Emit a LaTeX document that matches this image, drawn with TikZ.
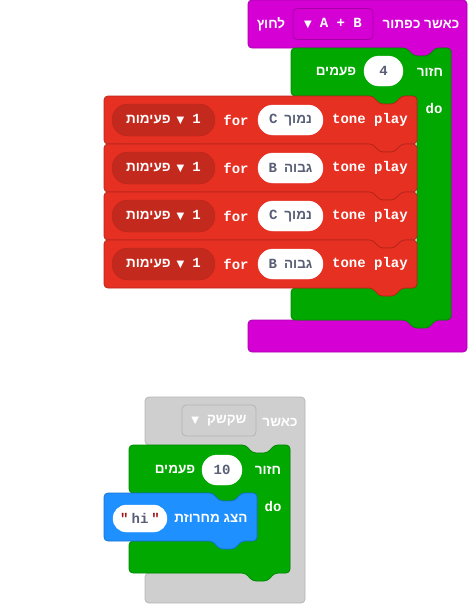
\documentclass[tikz,border=0pt]{standalone}
\usepackage{fontspec}
\usetikzlibrary{shapes.misc}
\newfontfamily\monofnt{Liberation Mono}
\newfontfamily\hebfnt[Script=Hebrew,BoldFont={Liberation Sans Bold}]{Liberation Sans}
\newfontfamily\symfnt{DejaVu Sans}
\TeXXeTstate=1
\definecolor{evt}{HTML}{D400D4}
\definecolor{evtd}{HTML}{A800A8}
\definecolor{loopc}{HTML}{00A800}
\definecolor{loopd}{HTML}{008A00}
\definecolor{music}{HTML}{E63022}
\definecolor{musicd}{HTML}{B8261B}
\definecolor{beatc}{HTML}{C4291D}
\definecolor{basic}{HTML}{1E90FF}
\definecolor{basicd}{HTML}{1873CC}
\definecolor{off}{HTML}{CFCFCF}
\definecolor{offd}{HTML}{B4B4B4}
\definecolor{valtxt}{HTML}{575E75}
\definecolor{quote}{HTML}{A31515}
\newcommand\rtl[1]{\beginR #1\endR}
\newcommand\tri{{\symfnt\fontsize{10}{10}\selectfont ▼}}
\newcommand\topnotch[2]{-- (#1-44,#2) -- (#1-38,#2+8) -- (#1-22,#2+8) -- (#1-16,#2)}
\newcommand\bottab[2]{-- (#1-16,#2) -- (#1-22,#2+8) -- (#1-38,#2+8) -- (#1-44,#2)}
\newcommand\stmt[5]{\draw[#1] (#2,#3) \topnotch{#4}{#3} -- (#4,#3) -- (#4,#5) \bottab{#4}{#5} -- (#2,#5) -- cycle;}
\newcommand\hatblk[8]{\draw[#1] (#2,#3) -- (#4,#3) -- (#4,#8) -- (#2,#8) -- (#2,#7) -- (#5,#7) -- (#5,#6) \bottab{#5}{#6} -- (#2,#6) -- cycle;}
\newcommand\loopblk[8]{\draw[#1] (#2,#3) \topnotch{#4}{#3} -- (#4,#3) -- (#4,#8) \bottab{#4}{#8} -- (#2,#8) -- (#2,#7) -- (#5,#7) -- (#5,#6) \bottab{#5}{#6} -- (#2,#6) -- cycle;}
\begin{document}
\begin{tikzpicture}[x=1pt,y=-1pt,
blk/.style={rounded corners=4pt,line width=0.8pt,line join=round},
evtshape/.style={blk,fill=evt,draw=evtd},
loopshape/.style={blk,fill=loopc,draw=loopd},
musicshape/.style={blk,fill=music,draw=musicd},
basicshape/.style={blk,fill=basic,draw=basicd},
offshape/.style={blk,fill=off,draw=offd},
txt/.style={inner sep=0pt,text=white,font=\monofnt\bfseries\fontsize{14}{14}\selectfont},
heb/.style={inner sep=0pt,text=white,font=\hebfnt\bfseries\fontsize{13.5}{13.5}\selectfont},
pill/.style={rounded rectangle,fill=white,draw=white,inner sep=0pt,minimum height=30pt,text=valtxt,font=\monofnt\bfseries\fontsize{14}{14}\selectfont},
ddpill/.style={rounded rectangle,fill=beatc,draw=musicd,inner sep=0pt,minimum width=103pt,minimum height=32pt,text=white,font=\monofnt\bfseries\fontsize{14}{14}\selectfont},
ddbox/.style={rectangle,rounded corners=4pt,line width=0.8pt,inner sep=0pt,minimum height=31pt,text=white,font=\monofnt\bfseries\fontsize{14}{14}\selectfont}]
\useasboundingbox (0,0) rectangle (467,605);

\hatblk{evtshape}{248}{0}{467}{451}{48}{320}{352}
\node[heb] (when) at (421,24) {\rtl{כאשר כפתור}};
\node[ddbox,fill=evt,draw=evtd,minimum width=80pt] (btn) at (333,24) {\tri\hspace{8pt}A + B};
\node[heb] (pressed) at (271,24) {\rtl{לחוץ}};

\loopblk{loopshape}{291}{48}{451}{417}{96}{288}{320}
\node[heb] (rep) at (430,72) {\rtl{חזור}};
\node[pill,minimum width=39pt] (times) at (383.5,71) {4};
\node[heb] (timeslbl) at (336,72) {\rtl{פעמים}};
\node[txt] (do) at (434,108) {do};

\foreach \y/\n/\nm [count=\i] in {120/C/נמוך,168/B/גבוה,216/C/נמוך,264/B/גבוה}{
  \stmt{musicshape}{104}{\y-24}{417}{\y+24}
  \node[ddpill] (beat\i) at (163.5,\y) {{\hebfnt\fontsize{13.5}{13.5}\selectfont\rtl{פעימות}}\hspace{6pt}\tri\hspace{8pt}1};
  \node[txt] (for\i) at (236,\y) {for};
  \node[pill,minimum width=65pt] (note\i) at (290.5,\y) {\n\hspace{7pt}{\hebfnt\fontsize{13.5}{13.5}\selectfont\rtl{\nm}}};
  \node[txt] (play\i) at (370,\y) {tone play};
}

\hatblk{offshape}{145}{397}{305}{290}{445}{573}{603}
\node[heb] (when2) at (280,422) {\rtl{כאשר}};
\node[ddbox,fill=off,draw=offd,minimum width=74pt] (shake) at (219,420.5) {\tri\hspace{8pt}{\hebfnt\fontsize{13.5}{13.5}\selectfont\rtl{שקשק}}};

\loopblk{loopshape}{129}{445}{290}{257}{493}{541}{573}
\node[heb] (rep2) at (268,470) {\rtl{חזור}};
\node[pill,minimum width=40pt] (times2) at (222,470) {10};
\node[heb] (timeslbl2) at (175,470) {\rtl{פעמים}};
\node[txt] (do2) at (273,506) {do};

\stmt{basicshape}{104}{493}{257}{541}
\node[heb] (show) at (211,518) {\rtl{הצג מחרוזת}};
\node[pill,minimum width=54pt,minimum height=27pt] (str) at (140,518.5) {\textcolor{quote}{"}\hspace{3pt}hi\hspace{3pt}\textcolor{quote}{"}};
\end{tikzpicture}
\end{document}
